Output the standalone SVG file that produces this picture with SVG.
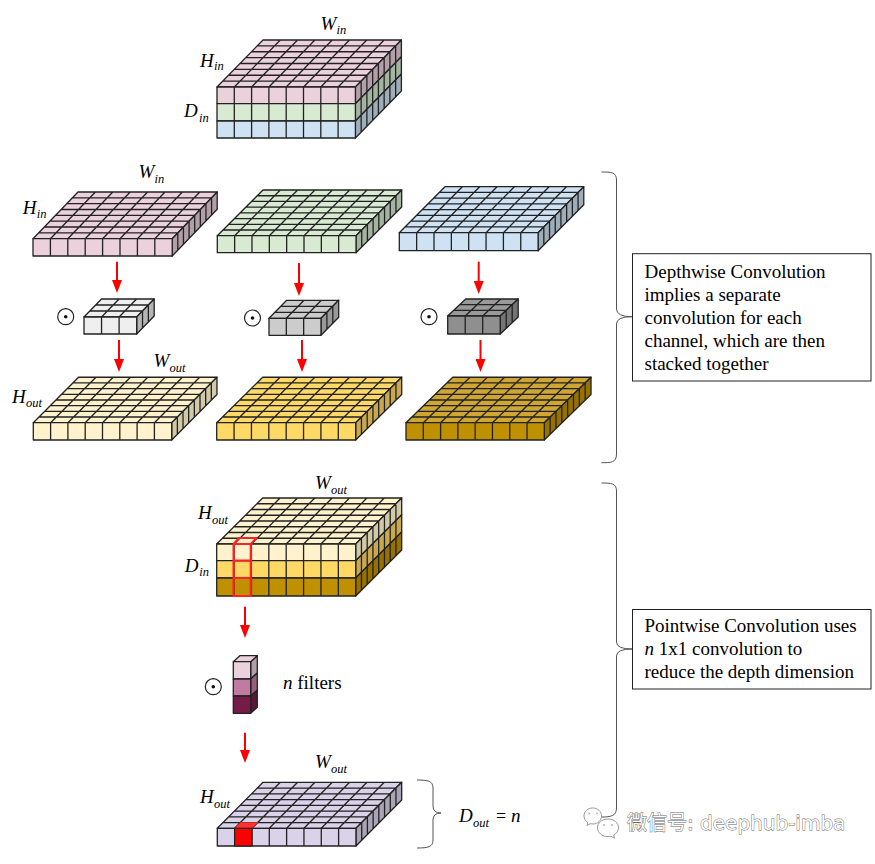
<svg xmlns="http://www.w3.org/2000/svg" width="875" height="864" viewBox="0 0 875 864">
<style>
.g{stroke:#222;stroke-width:1.3;stroke-linejoin:round;vector-effect:non-scaling-stroke}
text{font-family:"Liberation Serif","Times New Roman",serif;fill:#000}
.m{font-size:19px;font-style:italic}
.s{font-size:12.5px;font-style:italic}
.b{font-size:19px}
.r{fill:none;stroke:#f22;stroke-width:2.2;stroke-linejoin:round}
.arrow{stroke:#f00;stroke-width:2;fill:none}
.brace{fill:none;stroke:#555;stroke-width:1}
.box{fill:#fff;stroke:#222;stroke-width:1}
.op{fill:#fff;stroke:#222;stroke-width:1.2}
.wm{font-family:"DejaVu Sans","Noto Sans CJK SC",sans-serif;font-size:20px;fill:#fff;stroke:#666;stroke-width:.9;paint-order:stroke}
.ic{fill:#fff;stroke:#999;stroke-width:1}
</style>
<defs>
<marker id="head" markerUnits="userSpaceOnUse" markerWidth="13" markerHeight="10" refX="0" refY="5" viewBox="0 0 13 10" orient="auto"><path d="M0 0L13 5L0 10Z" fill="#f00"/></marker>
<path id="t8" class="g" d="M0 0H8V8H0ZM1 0V8M2 0V8M3 0V8M4 0V8M5 0V8M6 0V8M7 0V8M0 1H8M0 2H8M0 3H8M0 4H8M0 5H8M0 6H8M0 7H8"/>
<path id="f8" class="g" d="M0 0H8V1H0ZM1 0V1M2 0V1M3 0V1M4 0V1M5 0V1M6 0V1M7 0V1"/>
<path id="s8" class="g" d="M0 0H8V1H0ZM1 0V1M2 0V1M3 0V1M4 0V1M5 0V1M6 0V1M7 0V1"/>
<path id="t3" class="g" d="M0 0H3V3H0ZM1 0V3M2 0V3M0 1H3M0 2H3"/>
<path id="f3" class="g" d="M0 0H3V1H0ZM1 0V1M2 0V1"/>
<path id="s3" class="g" d="M0 0H3V1H0ZM1 0V1M2 0V1"/>
</defs>

<g id="input-stack">
<use href="#t8" fill="#ead1dc" transform="matrix(17.3 0 5.75 -5.875 217 87)"/>
<use href="#s8" fill="#b39fa8" transform="matrix(5.75 -5.875 0 16.7 355.4 87)"/>
<use href="#s8" fill="#a5b3a1" transform="matrix(5.75 -5.875 0 17.3 355.4 103.7)"/>
<use href="#s8" fill="#9eadba" transform="matrix(5.75 -5.875 0 17 355.4 121)"/>
<use href="#f8" fill="#ead1dc" transform="matrix(17.3 0 0 16.7 217 87)"/>
<use href="#f8" fill="#d9ead3" transform="matrix(17.3 0 0 17.3 217 103.7)"/>
<use href="#f8" fill="#cfe2f3" transform="matrix(17.3 0 0 17 217 121)"/>
<text class="m" x="320.5" y="30">W<tspan class="s" x="336.5" y="34">in</tspan></text>
<text class="m" x="200" y="66.7">H<tspan class="s" x="214" y="69.5">in</tspan></text>
<text class="m" x="184" y="117">D<tspan class="s" x="199" y="121.7">in</tspan></text>
</g>

<g id="in-red">
<use href="#t8" fill="#ead1dc" transform="matrix(17.4 0 5.625 -5.84 33 238.7)"/>
<use href="#s8" fill="#b39fa8" transform="matrix(5.625 -5.84 0 17.3 172.2 238.7)"/>
<use href="#f8" fill="#ead1dc" transform="matrix(17.4 0 0 17.3 33 238.7)"/>
<text class="m" x="138.5" y="178">W<tspan class="s" x="154.5" y="182.7">in</tspan></text>
<text class="m" x="22.7" y="214">H<tspan class="s" x="36.7" y="218">in</tspan></text>
</g>
<g id="in-green">
<use href="#t8" fill="#d9ead3" transform="matrix(17.34 0 5.71 -5.71 217.3 235.7)"/>
<use href="#s8" fill="#a5b3a1" transform="matrix(5.71 -5.71 0 17 356 235.7)"/>
<use href="#f8" fill="#d9ead3" transform="matrix(17.34 0 0 17 217.3 235.7)"/>
</g>
<g id="in-blue">
<use href="#t8" fill="#cfe2f3" transform="matrix(17.35 0 5.71 -5.75 399.3 232.7)"/>
<use href="#s8" fill="#9eadba" transform="matrix(5.71 -5.75 0 18 538.1 232.7)"/>
<use href="#f8" fill="#cfe2f3" transform="matrix(17.35 0 0 18 399.3 232.7)"/>
</g>

<g id="filter-light">
<use href="#t3" fill="#efefef" transform="matrix(17.55 0 5.83 -6 84 317)"/>
<use href="#s3" fill="#b5b5b5" transform="matrix(5.83 -6 0 17 136.7 317)"/>
<use href="#f3" fill="#efefef" transform="matrix(17.55 0 0 17 84 317)"/>
<circle class="op" cx="65.7" cy="316.7" r="8"/><circle cx="65.7" cy="316.7" r="1.8" fill="#111"/>
</g>
<g id="filter-mid">
<use href="#t3" fill="#cccccc" transform="matrix(17.33 0 5.9 -6 269 318.3)"/>
<use href="#s3" fill="#999" transform="matrix(5.9 -6 0 17 321 318.3)"/>
<use href="#f3" fill="#cccccc" transform="matrix(17.33 0 0 17 269 318.3)"/>
<circle class="op" cx="252.5" cy="318" r="8"/><circle cx="252.5" cy="318" r="1.8" fill="#111"/>
</g>
<g id="filter-dark">
<use href="#t3" fill="#999999" transform="matrix(17.5 0 6 -5.67 447.7 316)"/>
<use href="#s3" fill="#747474" transform="matrix(6 -5.67 0 18 500.2 316)"/>
<use href="#f3" fill="#8f8f8f" transform="matrix(17.5 0 0 18 447.7 316)"/>
<circle class="op" cx="429" cy="316.7" r="8"/><circle cx="429" cy="316.7" r="1.8" fill="#111"/>
</g>

<g id="out-light">
<use href="#t8" fill="#fff2cc" transform="matrix(17.3 0 5.66 -5.68 33.3 422.7)"/>
<use href="#s8" fill="#d2c9a8" transform="matrix(5.66 -5.68 0 17.3 171.7 422.7)"/>
<use href="#f8" fill="#fff2cc" transform="matrix(17.3 0 0 17.3 33.3 422.7)"/>
<text class="m" x="153.5" y="366.7">W<tspan class="s" x="169.5" y="371.7">out</tspan></text>
<text class="m" x="12" y="402.7">H<tspan class="s" x="26" y="407">out</tspan></text>
</g>
<g id="out-mid">
<use href="#t8" fill="#ffd966" transform="matrix(17.37 0 5.75 -5.68 216.7 422.7)"/>
<use href="#s8" fill="#c9a94f" transform="matrix(5.75 -5.68 0 17.3 355.7 422.7)"/>
<use href="#f8" fill="#ffd966" transform="matrix(17.37 0 0 17.3 216.7 422.7)"/>
</g>
<g id="out-dark">
<use href="#t8" fill="#cfa632" transform="matrix(17.29 0 5.84 -5.68 406 422.7)"/>
<use href="#s8" fill="#967100" transform="matrix(5.84 -5.68 0 17.3 544.3 422.7)"/>
<use href="#f8" fill="#bf9000" transform="matrix(17.29 0 0 17.3 406 422.7)"/>
</g>

<g id="stacked-out">
<use href="#t8" fill="#fff2cc" transform="matrix(17.375 0 5.75 -5.75 216.7 544)"/>
<use href="#s8" fill="#d2c9a8" transform="matrix(5.75 -5.75 0 16.7 355.7 544)"/>
<use href="#s8" fill="#c9a94f" transform="matrix(5.75 -5.75 0 17.3 355.7 560.7)"/>
<use href="#s8" fill="#967100" transform="matrix(5.75 -5.75 0 18 355.7 578)"/>
<use href="#f8" fill="#fff2cc" transform="matrix(17.375 0 0 16.7 216.7 544)"/>
<use href="#f8" fill="#ffd966" transform="matrix(17.375 0 0 17.3 216.7 560.7)"/>
<use href="#f8" fill="#bf9000" transform="matrix(17.375 0 0 18 216.7 578)"/>
<path class="r" d="M233.6 544L239 538H256.5L250.8 544ZM233.6 544H250.8V596H233.6ZM233.6 560.7H250.8M233.6 578H250.8"/>
<text class="m" x="315" y="489">W<tspan class="s" x="331" y="494">out</tspan></text>
<text class="m" x="198" y="519">H<tspan class="s" x="212" y="524">out</tspan></text>
<text class="m" x="184.7" y="571.7">D<tspan class="s" x="199.3" y="576">in</tspan></text>
</g>

<g id="n-filters">
<path class="g" fill="#b39fa8" d="M250.7 661.7L257.3 655.7V673L250.7 679Z"/>
<path class="g" fill="#94607c" d="M250.7 679L257.3 673V690.3L250.7 696Z"/>
<path class="g" fill="#5a1538" d="M250.7 696L257.3 690.3V707.3L250.7 713.3Z"/>
<path class="g" fill="#ead1dc" d="M233.3 661.7L239.8 655.7H257.3L250.7 661.7Z"/>
<rect class="g" fill="#ead1dc" x="233.3" y="661.7" width="17.4" height="17.3"/>
<rect class="g" fill="#c27ba0" x="233.3" y="679" width="17.4" height="17"/>
<rect class="g" fill="#741b47" x="233.3" y="696" width="17.4" height="17.3"/>
<circle class="op" cx="213.3" cy="686.7" r="8"/><circle cx="213.3" cy="686.7" r="1.8" fill="#111"/>
<text x="283" y="689" font-size="19" font-style="italic">n<tspan font-style="normal"> filters</tspan></text>
</g>

<g id="output-slab">
<use href="#t8" fill="#d9d2e9" transform="matrix(17.33 0 5.71 -5.75 217.3 828.3)"/>
<use href="#s8" fill="#a9a4b6" transform="matrix(5.71 -5.75 0 17.7 356 828.3)"/>
<use href="#f8" fill="#d9d2e9" transform="matrix(17.33 0 0 17.7 217.3 828.3)"/>
<path fill="#f33" stroke="#d22" stroke-width=".8" d="M234.6 828.3L240.3 822.5H258L252 828.3Z"/>
<rect fill="#f00" stroke="#222" stroke-width="1.2" x="234.6" y="828.3" width="17.33" height="17.7"/>
<text class="m" x="315" y="768">W<tspan class="s" x="331" y="772.7">out</tspan></text>
<text class="m" x="200" y="803">H<tspan class="s" x="214" y="807.7">out</tspan></text>
<text class="m" x="459" y="822">D<tspan class="s" x="473" y="826.5">out</tspan><tspan x="496" y="822" font-style="normal" font-size="18">=</tspan><tspan x="511" y="822" font-size="19">n</tspan></text>
</g>

<g id="depthwise-note">
<rect class="box" x="632.5" y="253.7" width="238.5" height="127.3"/>
<text class="b" x="644.5"><tspan x="644.5" y="278">Depthwise Convolution</tspan><tspan x="644.5" y="301">implies a separate</tspan><tspan x="644.5" y="324">convolution for each</tspan><tspan x="644.5" y="347">channel, which are then</tspan><tspan x="644.5" y="370">stacked together</tspan></text>
</g>
<g id="pointwise-note">
<rect class="box" x="632.5" y="609.5" width="238.5" height="79.5"/>
<text class="b" x="644.5"><tspan x="644.5" y="632">Pointwise Convolution uses</tspan><tspan x="644.5" y="655" font-style="italic">n<tspan font-style="normal"> 1x1 convolution to</tspan></tspan><tspan x="644.5" y="678">reduce the depth dimension</tspan></text>
</g>

<g id="connectors">
<path class="arrow" marker-end="url(#head)" d="M117 261.7V280"/>
<path class="arrow" marker-end="url(#head)" d="M119 340V359"/>
<path class="arrow" marker-end="url(#head)" d="M299 263V283"/>
<path class="arrow" marker-end="url(#head)" d="M302 340V359"/>
<path class="arrow" marker-end="url(#head)" d="M478.7 261.7V281"/>
<path class="arrow" marker-end="url(#head)" d="M480.5 340V359"/>
<path class="arrow" marker-end="url(#head)" d="M245 606.7V625"/>
<path class="arrow" marker-end="url(#head)" d="M245 732.7V750"/>
<path class="brace" d="M601.5 172C611 172 616.5 172 616.5 180V309Q616.5 316.7 632 316.7Q616.5 316.7 616.5 324V454C616.5 462.7 611 462.7 601.5 462.7"/>
<path class="brace" d="M601.5 483C611 483 616.5 483 616.5 491V642Q616.5 649 632 649Q616.5 649 616.5 656V808C616.5 816 611 817 601.5 817"/>
<path class="brace" d="M417 780C428 780 433 781 433 788V806Q433 813 441 813Q433 813 433 820V840C433 847 428 848 417 848"/>
</g>

<g id="watermark">
<path class="ic" d="M592.5 808c-4.800 0-8.500 3.500-8.500 8 0 2.800 1.500 5.100 3.800 6.500l-.8 3 3.500-1.800c.8.200 1.600.3 2.500.3 4.800 0 8.500-3.600 8.500-8s-3.700-8-8.500-8z"/>
<path class="ic" d="M608 819c-6 0-10.500 3.900-10.500 8.800s4.500 8.800 10.500 8.800c1 0 2-.1 2.900-.4l3.600 2-.8-3.200c2.900-1.600 4.800-4.200 4.800-7.200 0-4.900-4.500-8.800-10.500-8.800z"/>
<circle cx="589" cy="813.500" r="1" fill="#bbb"/><circle cx="597" cy="813.500" r="1" fill="#bbb"/>
<circle cx="604" cy="825" r="1" fill="#bbb"/><circle cx="612" cy="825" r="1" fill="#bbb"/>
<text class="wm" x="627" y="830">微信号: deephub-imba</text>
</g>
</svg>
